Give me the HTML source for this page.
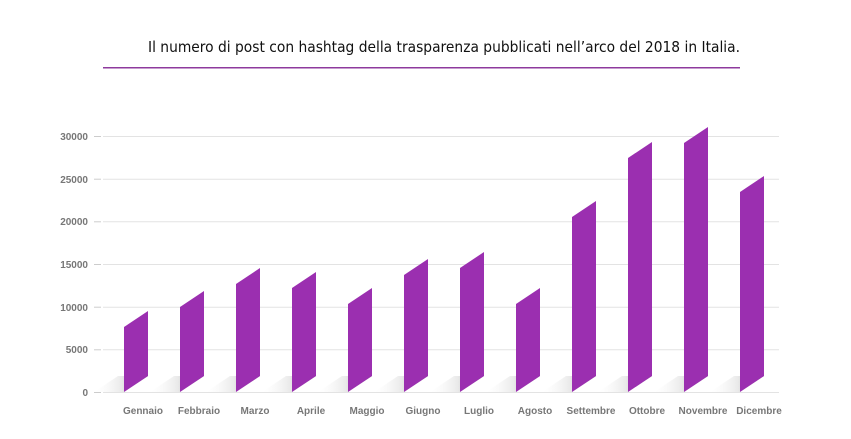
<!DOCTYPE html><html><head><meta charset="utf-8"><style>body{margin:0;background:#fff;}svg{display:block}</style></head><body>
<svg width="851" height="439" xmlns="http://www.w3.org/2000/svg" font-family="Liberation Sans, sans-serif">
<defs><linearGradient id="sh" x1="1" y1="0" x2="0" y2="0"><stop offset="0" stop-color="#555" stop-opacity="0.7"/><stop offset="0.5" stop-color="#bbb" stop-opacity="0.3"/><stop offset="1" stop-color="#eee" stop-opacity="0"/></linearGradient></defs>
<text x="444" y="52" font-size="15.5" text-anchor="middle" fill="#111" font-family="DejaVu Sans, sans-serif" textLength="592" lengthAdjust="spacingAndGlyphs">Il numero di post con hashtag della trasparenza pubblicati nell’arco del 2018 in Italia.</text>
<rect x="103" y="67" width="637" height="1.5" fill="#8e3a9d"/>
<g stroke="#e3e3e3" stroke-width="1">
<line x1="103" y1="392.5" x2="779" y2="392.5"/><line x1="103" y1="349.8" x2="779" y2="349.8"/><line x1="103" y1="307.2" x2="779" y2="307.2"/><line x1="103" y1="264.5" x2="779" y2="264.5"/><line x1="103" y1="221.8" x2="779" y2="221.8"/><line x1="103" y1="179.2" x2="779" y2="179.2"/><line x1="103" y1="136.5" x2="779" y2="136.5"/>
</g>
<g stroke="#ccc"><line x1="94" y1="392.5" x2="101" y2="392.5"/><line x1="94" y1="349.8" x2="101" y2="349.8"/><line x1="94" y1="307.2" x2="101" y2="307.2"/><line x1="94" y1="264.5" x2="101" y2="264.5"/><line x1="94" y1="221.8" x2="101" y2="221.8"/><line x1="94" y1="179.2" x2="101" y2="179.2"/><line x1="94" y1="136.5" x2="101" y2="136.5"/></g>
<g font-size="10" font-weight="bold" fill="#777" text-anchor="end">
<text x="88" y="396">0</text><text x="88" y="353">5000</text><text x="88" y="311">10000</text><text x="88" y="268">15000</text><text x="88" y="225">20000</text><text x="88" y="183">25000</text><text x="88" y="140">30000</text>
</g>
<g id="bars"></g>
<g font-size="10" font-weight="bold" fill="#777" text-anchor="middle" id="lbl"></g>
<script>
var tops=[327,307,284,288,304,275,268,304,217,158,143,192];
var names=["Gennaio","Febbraio","Marzo","Aprile","Maggio","Giugno","Luglio","Agosto","Settembre","Ottobre","Novembre","Dicembre"];
var ns="http://www.w3.org/2000/svg",b=document.getElementById("bars"),l=document.getElementById("lbl");
tops.forEach(function(t,i){var x=124+i*56;
var s=document.createElementNS(ns,"polygon");s.setAttribute("points",(x-30)+",392 "+x+",392 "+(x+24)+",376 "+(x-6)+",376");s.setAttribute("fill","url(#sh)");b.appendChild(s);
var p=document.createElementNS(ns,"polygon");p.setAttribute("points",x+",392 "+(x+24)+",376 "+(x+24)+","+(t-16)+" "+x+","+t);p.setAttribute("fill","#9b2fb0");b.appendChild(p);
var tx=document.createElementNS(ns,"text");tx.setAttribute("x",x+19);tx.setAttribute("y",414);tx.textContent=names[i];l.appendChild(tx);});
</script>
</svg></body></html>
